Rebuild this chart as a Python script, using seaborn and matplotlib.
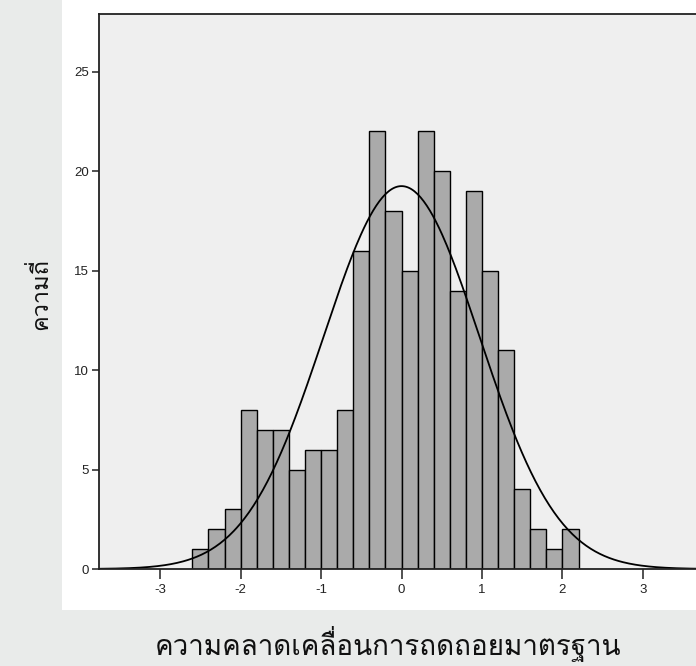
import numpy as np
import pandas as pd
import matplotlib
matplotlib.use("Agg")
import matplotlib.pyplot as plt
from matplotlib import font_manager
from matplotlib.ft2font import FT2Font
from matplotlib.patches import Rectangle
import seaborn as sns

# histogram of standardized residuals
bin_edges = [-2.6, -2.4, -2.2, -2.0, -1.8, -1.6, -1.4, -1.2, -1.0, -0.8, -0.6,
             -0.4, -0.2, 0.0, 0.2, 0.4, 0.6, 0.8, 1.0, 1.2, 1.4, 1.6, 1.8, 2.0, 2.2]
counts = [1, 2, 3, 8, 7, 7, 5, 6, 6, 8,
          16, 22, 18, 15, 22, 20, 14, 19, 15, 11,
          4, 2, 1, 2]
curve_mean = 0.0
curve_sd = 0.97
x_ticks = [-3, -2, -1, 0, 1, 2, 3]
y_ticks = [0, 5, 10, 15, 20, 25]
x_label = "ความคลาดเคลื่อนการถดถอยมาตรฐาน"
y_label = "ความถี่"

edges = np.array(bin_edges)
df = pd.DataFrame({"z": (edges[:-1] + edges[1:]) / 2, "n": counts})
n_total = df["n"].sum()
bin_w = edges[1] - edges[0]


def find_thai_font():
    # pick any installed family that has Thai glyphs
    for f in font_manager.fontManager.ttflist:
        try:
            cmap = FT2Font(f.fname).get_charmap()
        except Exception:
            continue
        if 0x0E04 in cmap and 0x0E32 in cmap:
            return f.name
    return None


sns.set_style("white")
thai = find_thai_font()
plt.rcParams["font.family"] = ["Liberation Sans", "DejaVu Sans"]
plt.rcParams["axes.unicode_minus"] = False
thai_family = [thai, "DejaVu Sans"] if thai else ["DejaVu Sans"]

fig = plt.figure(figsize=(6.96, 6.66), dpi=100)
fig.patch.set_facecolor("#e9ebea")
# white chart panel behind the axes
fig.patches.append(Rectangle((62 / 696, 1 - 610 / 666), 1 - 62 / 696, 610 / 666,
                             transform=fig.transFigure, facecolor="white",
                             edgecolor="none", zorder=-10))

ax = fig.add_axes([99 / 696, 97 / 666, 1 - 99 / 696, (569 - 14) / 666])
ax.set_facecolor("#efefef")

sns.histplot(data=df, x="z", weights="n", bins=bin_edges, ax=ax,
             color="#aaaaaa", edgecolor="black", linewidth=1, alpha=1)

xs = np.linspace(-3.8, 3.8, 400)
ys = n_total * bin_w * np.exp(-0.5 * ((xs - curve_mean) / curve_sd) ** 2) / (curve_sd * np.sqrt(2 * np.pi))
sns.lineplot(x=xs, y=ys, ax=ax, color="black", linewidth=1.3)

ax.set_xlim(-3.76, 3.66)
ax.set_ylim(0, 27.9)
ax.set_xticks(x_ticks)
ax.set_yticks(y_ticks)
ax.tick_params(axis="both", bottom=True, left=True, direction="out", length=5,
               width=1.2, color="#333333", labelsize=9.5, labelcolor="#222222", pad=2)
ax.tick_params(axis="x", length=7, pad=4)
for side in ["left", "bottom", "top"]:
    ax.spines[side].set_color("#222222")
    ax.spines[side].set_linewidth(1.3)
ax.spines["right"].set_visible(False)
ax.set_xlabel("")
ax.set_ylabel("")

fig.text(388 / 696, 1 - 644 / 666, x_label, ha="center", va="center",
         fontsize=20, family=thai_family, color="#111111")
fig.text(40 / 696, 1 - 294 / 666, y_label, ha="center", va="center",
         rotation=90, fontsize=17, family=thai_family, color="#111111")

fig.savefig("out.png", dpi=100, facecolor=fig.get_facecolor())
